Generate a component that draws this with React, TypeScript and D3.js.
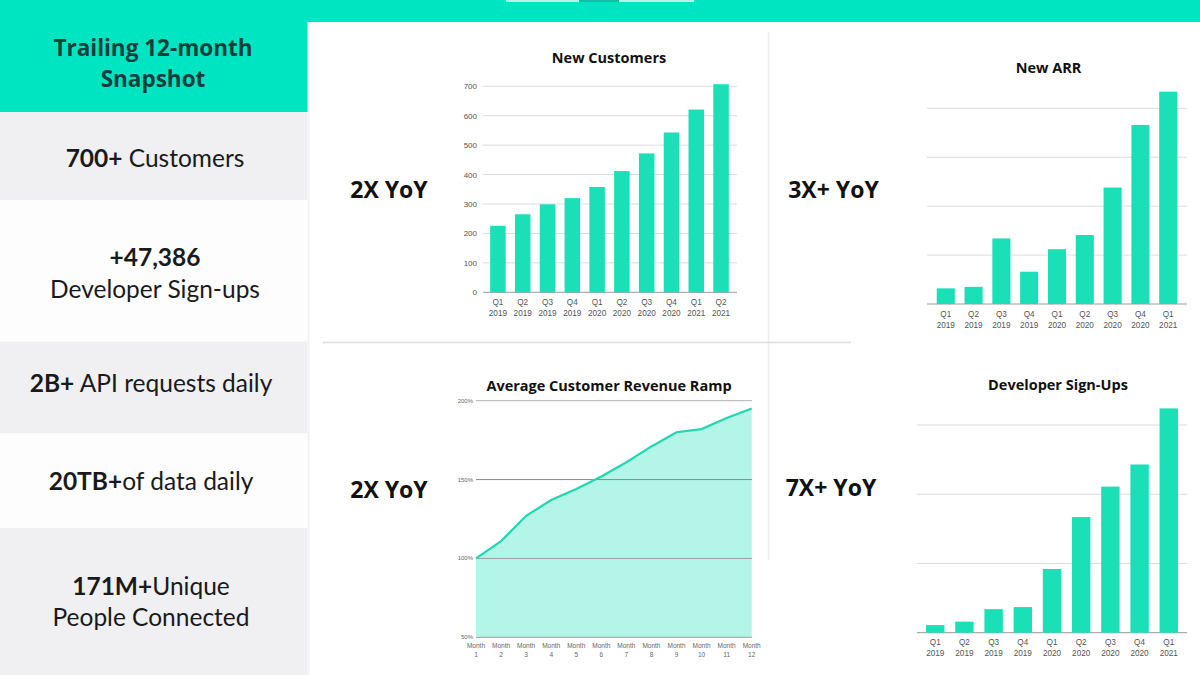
import React from "react";
import * as d3 from "d3";

const quartersNC = ["Q1 2019","Q2 2019","Q3 2019","Q4 2019","Q1 2020","Q2 2020","Q3 2020","Q4 2020","Q1 2021","Q2 2021"];
const newCustomers = [226, 265, 299, 320, 358, 412, 472, 543, 621, 707];
const ncTicks = [0, 100, 200, 300, 400, 500, 600, 700];

const quarters9 = ["Q1 2019","Q2 2019","Q3 2019","Q4 2019","Q1 2020","Q2 2020","Q3 2020","Q4 2020","Q1 2021"];
const newArr = [0.32, 0.35, 1.34, 0.66, 1.12, 1.41, 2.38, 3.66, 4.34];
const arrGrid = [0, 1, 2, 3, 4];

const devSignups = [0.11, 0.16, 0.34, 0.37, 0.92, 1.67, 2.11, 2.43, 3.24];
const devGrid = [0, 1, 2, 3];

const months = [1,2,3,4,5,6,7,8,9,10,11,12];
const revenueRamp = [100, 111, 127, 137, 144, 152, 161, 171, 180, 182, 189, 195];
const rampTicks = [50, 100, 150, 200];

const TEAL = "#00e5c1";
const BAR = "#1adfb7";
const SANS = "'Open Sans', 'Noto Sans', sans-serif";
const TICKF = "'Liberation Sans', Arial, sans-serif";

function BarChart({ cats, values, x0, x1, y0, y1, dmax, grid, pInner, pOuter, showY, labY, gridX0, gridX1 }) {
  const x = d3.scaleBand().domain(cats).range([x0, x1]).paddingInner(pInner).paddingOuter(pOuter);
  const y = d3.scaleLinear().domain([0, dmax]).range([y0, y1]);
  return (
    <g>
      {grid.map((g) => (
        <line key={g} x1={gridX0} x2={gridX1} y1={y(g)} y2={y(g)} stroke={g === 0 ? "#9a9a9a" : "#dcdcdc"} strokeWidth={1} />
      ))}
      {showY && grid.map((g) => (
        <text key={"t" + g} x={gridX0 - 6} y={y(g) + 3} textAnchor="end" fontFamily={TICKF} fontSize={8} fill="#555">{g}</text>
      ))}
      {cats.map((c, i) => (
        <rect key={c} x={x(c)} y={y(values[i])} width={x.bandwidth()} height={y(0) - y(values[i])} fill={BAR} />
      ))}
      {cats.map((c) => {
        const [q, yr] = c.split(" ");
        const cx = x(c) + x.bandwidth() / 2;
        return (
          <text key={"l" + c} x={cx} textAnchor="middle" fontFamily={TICKF} fontSize={8.2} fill="#555">
            <tspan x={cx} y={labY}>{q}</tspan>
            <tspan x={cx} y={labY + 11.5}>{yr}</tspan>
          </text>
        );
      })}
    </g>
  );
}

function RampChart() {
  const x = d3.scalePoint().domain(months.map(String)).range([476, 751.7]);
  const y = d3.scaleLinear().domain([50, 200]).range([637.3, 400.7]);
  const pts = months.map((m, i) => [x(String(m)), y(revenueRamp[i])]);
  const area = d3.area().x((d) => d[0]).y0(y(50)).y1((d) => d[1])(pts);
  const line = d3.line()(pts);
  return (
    <g>
      <path d={area} fill="#b3f5e7" />
      {rampTicks.map((t) => (
        <line key={t} x1={476} x2={752} y1={y(t)} y2={y(t)} stroke={t === 150 ? "#8a8a8a" : "#9e9e9e"} strokeWidth={t === 200 ? 0.8 : 1} />
      ))}
      {rampTicks.map((t) => (
        <text key={"t" + t} x={473} y={y(t) + 2} textAnchor="end" fontFamily={TICKF} fontSize={6} fill="#666">{t + "%"}</text>
      ))}
      <path d={line} fill="none" stroke="#22d6b2" strokeWidth={2.2} />
      {months.map((m) => {
        const cx = x(String(m));
        return (
          <text key={"m" + m} textAnchor="middle" fontFamily={TICKF} fontSize={6.5} fill="#666">
            <tspan x={cx} y={648}>Month</tspan>
            <tspan x={cx} y={657}>{m}</tspan>
          </text>
        );
      })}
    </g>
  );
}

export default function App() {
  const rows = [
    { y: 112, h: 88, fill: "#f0eff2" },
    { y: 200, h: 141.5, fill: "#fdfdfe" },
    { y: 341.5, h: 92, fill: "#f0eff2" },
    { y: 433.5, h: 94.5, fill: "#fdfdfe" },
    { y: 528, h: 147, fill: "#f0eff2" },
  ];
  const LF = "Lato, 'Open Sans', sans-serif";
  return (
    <svg width={1200} height={675} style={{ position: "absolute", left: 0, top: 0 }}>
      <rect x={0} y={0} width={1200} height={675} fill="#ffffff" />
      <rect x={0} y={0} width={1200} height={22} fill={TEAL} />
      <rect x={506} y={0} width={188} height={2} fill="#b8f3ea" />
      <rect x={579} y={0} width={40} height={2} fill="#1ab8a6" />
      <rect x={0} y={22} width={308} height={90} fill={TEAL} />
      {rows.map((r, i) => (
        <rect key={i} x={0} y={r.y} width={307.5} height={r.h} fill={r.fill} />
      ))}
      <rect x={307.5} y={22} width={2} height={653} fill="#f3f3f5" />

      <g fontFamily={SANS} fontWeight={700} fontSize={22.5} fill="#123f3e" textAnchor="middle">
        <text x={153} y={55.5}>Trailing 12-month</text>
        <text x={153} y={87}>Snapshot</text>
      </g>
      <g fontFamily={LF} fontSize={24.5} fill="#1a1a1a" textAnchor="middle">
        <text x={155} y={167}><tspan fontWeight={700}>700+</tspan> Customers</text>
        <text x={155} y={265.5} fontWeight={700}>+47,386</text>
        <text x={155} y={297.5}>Developer Sign-ups</text>
        <text x={151} y={392}><tspan fontWeight={700}>2B+</tspan> API requests daily</text>
        <text x={151} y={489.5}><tspan fontWeight={700}>20TB+</tspan>of data daily</text>
        <text x={151} y={595}><tspan fontWeight={700}>171M+</tspan>Unique</text>
        <text x={151} y={626}>People Connected</text>
      </g>

      <line x1={768.5} x2={768.5} y1={32} y2={560} stroke="#ececec" strokeWidth={1.5} />
      <line x1={323} x2={851} y1={342.5} y2={342.5} stroke="#dedede" strokeWidth={1.5} />

      <g fontFamily={SANS} fontWeight={700} fontSize={23} fill="#111" textAnchor="middle">
        <text x={389} y={197.5}>2X YoY</text>
        <text x={833.5} y={197.5}>3X+ YoY</text>
        <text x={389} y={498}>2X YoY</text>
        <text x={831} y={496}>7X+ YoY</text>
      </g>

      <g fontFamily={SANS} fontWeight={700} fontSize={14.5} fill="#111" textAnchor="middle">
        <text x={609} y={63}>New Customers</text>
        <text x={1048.5} y={72.5}>New ARR</text>
        <text x={609} y={390.5}>Average Customer Revenue Ramp</text>
        <text x={1058} y={390}>Developer Sign-Ups</text>
      </g>

      <BarChart cats={quartersNC} values={newCustomers} x0={482} x1={737} y0={292.3} y1={86.3} dmax={700}
        grid={ncTicks} pInner={0.375} pOuter={0.33} showY={true} labY={304.5} gridX0={483} gridX1={737} />
      <BarChart cats={quarters9} values={newArr} x0={927} x1={1187} y0={304} y1={108.3} dmax={4}
        grid={arrGrid} pInner={0.35} pOuter={0.35} showY={false} labY={316.5} gridX0={927} gridX1={1187} />
      <BarChart cats={quarters9} values={devSignups} x0={917} x1={1187} y0={632.7} y1={425} dmax={3}
        grid={devGrid} pInner={0.37} pOuter={0.31} showY={false} labY={644.5} gridX0={917} gridX1={1187} />
      <RampChart />
    </svg>
  );
}
